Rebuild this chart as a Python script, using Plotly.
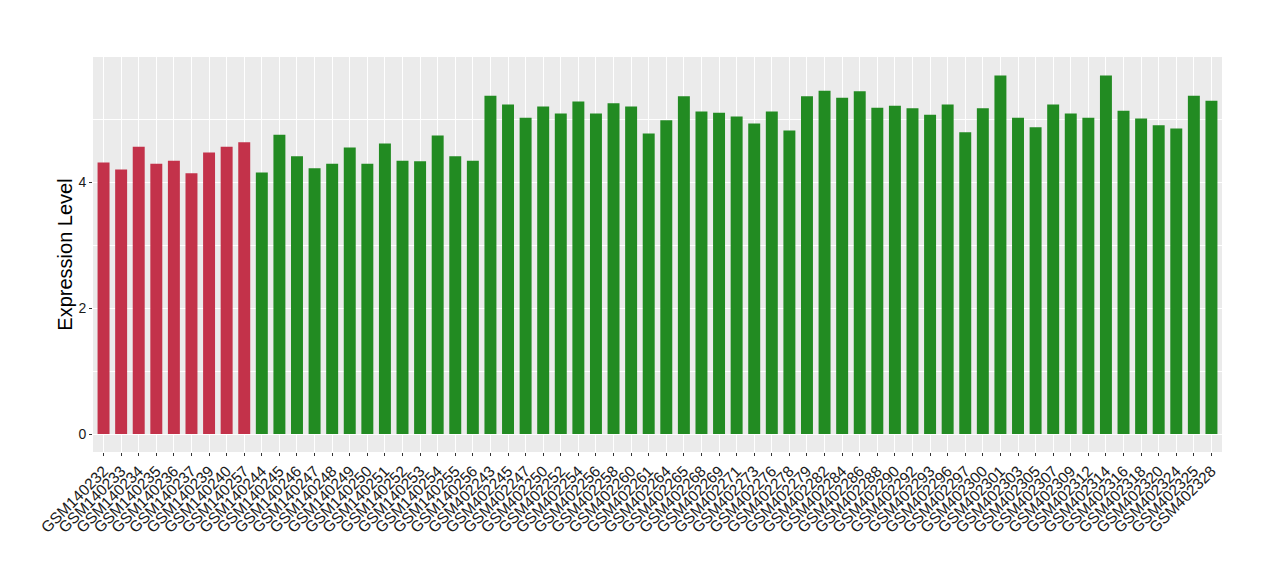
import plotly.graph_objects as go

samples = [
    "GSM140232", "GSM140233", "GSM140234", "GSM140235", "GSM140236", "GSM140237",
    "GSM140239", "GSM140240", "GSM140257", "GSM140244", "GSM140245", "GSM140246",
    "GSM140247", "GSM140248", "GSM140249", "GSM140250", "GSM140251", "GSM140252",
    "GSM140253", "GSM140254", "GSM140255", "GSM140256",
    "GSM402243", "GSM402245", "GSM402247", "GSM402250", "GSM402252", "GSM402254",
    "GSM402256", "GSM402258", "GSM402260", "GSM402261", "GSM402264", "GSM402265",
    "GSM402268", "GSM402269", "GSM402271", "GSM402273", "GSM402276", "GSM402278",
    "GSM402279", "GSM402282", "GSM402284", "GSM402286", "GSM402288", "GSM402290",
    "GSM402292", "GSM402293", "GSM402296", "GSM402297", "GSM402300", "GSM402301",
    "GSM402303", "GSM402305", "GSM402307", "GSM402309", "GSM402312", "GSM402314",
    "GSM402316", "GSM402318", "GSM402320", "GSM402324", "GSM402325", "GSM402328",
]

values = [
    4.31, 4.20, 4.56, 4.29, 4.34, 4.14, 4.47, 4.56, 4.63,
    4.15, 4.75, 4.41, 4.22, 4.29, 4.55, 4.29, 4.61, 4.34, 4.33, 4.74, 4.41, 4.34,
    5.37, 5.23, 5.02, 5.20, 5.09, 5.28, 5.09, 5.25, 5.20, 4.77, 4.98, 5.36,
    5.12, 5.10, 5.04, 4.93, 5.12, 4.82, 5.36, 5.45, 5.34, 5.44, 5.18, 5.21,
    5.17, 5.07, 5.23, 4.79, 5.17, 5.69, 5.02, 4.87, 5.23, 5.09, 5.02, 5.69,
    5.13, 5.01, 4.90, 4.85, 5.37, 5.29,
]

groups = ["red"] * 9 + ["green"] * 55
group_colors = {"red": "#C3324A", "green": "#228B22"}
colors = [group_colors[g] for g in groups]

y_ticks = [0, 2, 4]

fig = go.Figure(
    go.Bar(
        x=samples,
        y=values,
        marker=dict(color=colors, line=dict(width=0)),
        width=0.68,
        showlegend=False,
    )
)

font_family = "Liberation Sans, Arial, sans-serif"

fig.update_layout(
    width=1280,
    height=580,
    margin=dict(l=85, r=66, t=49, b=136),
    paper_bgcolor="white",
    plot_bgcolor="#EBEBEB",
    font=dict(family=font_family, color="#333333"),
)

fig.update_xaxes(
    type="category",
    range=[-0.6, len(samples) - 0.4],
    tickmode="array",
    tickvals=samples,
    ticktext=samples,
    tickangle=-45,
    tickfont=dict(size=15.5, color="#1A1A1A"),
    showgrid=True,
    gridcolor="white",
    gridwidth=1.1,
    ticks="outside",
    ticklen=3,
    tickcolor="#333333",
    tickwidth=1,
    showline=False,
    zeroline=False,
    automargin=False,
)

fig.update_yaxes(
    range=[-0.285, 5.985],
    tickvals=y_ticks,
    ticktext=[str(t) for t in y_ticks],
    tickfont=dict(size=14, color="#1A1A1A"),
    showgrid=True,
    gridcolor="white",
    gridwidth=1.1,
    minor=dict(dtick=1, tick0=0, showgrid=True, gridcolor="white", gridwidth=0.5),
    ticks="outside",
    ticklen=3,
    tickcolor="#333333",
    zeroline=False,
    showline=False,
    automargin=False,
    title=dict(text="Expression Level", font=dict(size=20, color="black"), standoff=0),
)

fig.write_html("out.html")
